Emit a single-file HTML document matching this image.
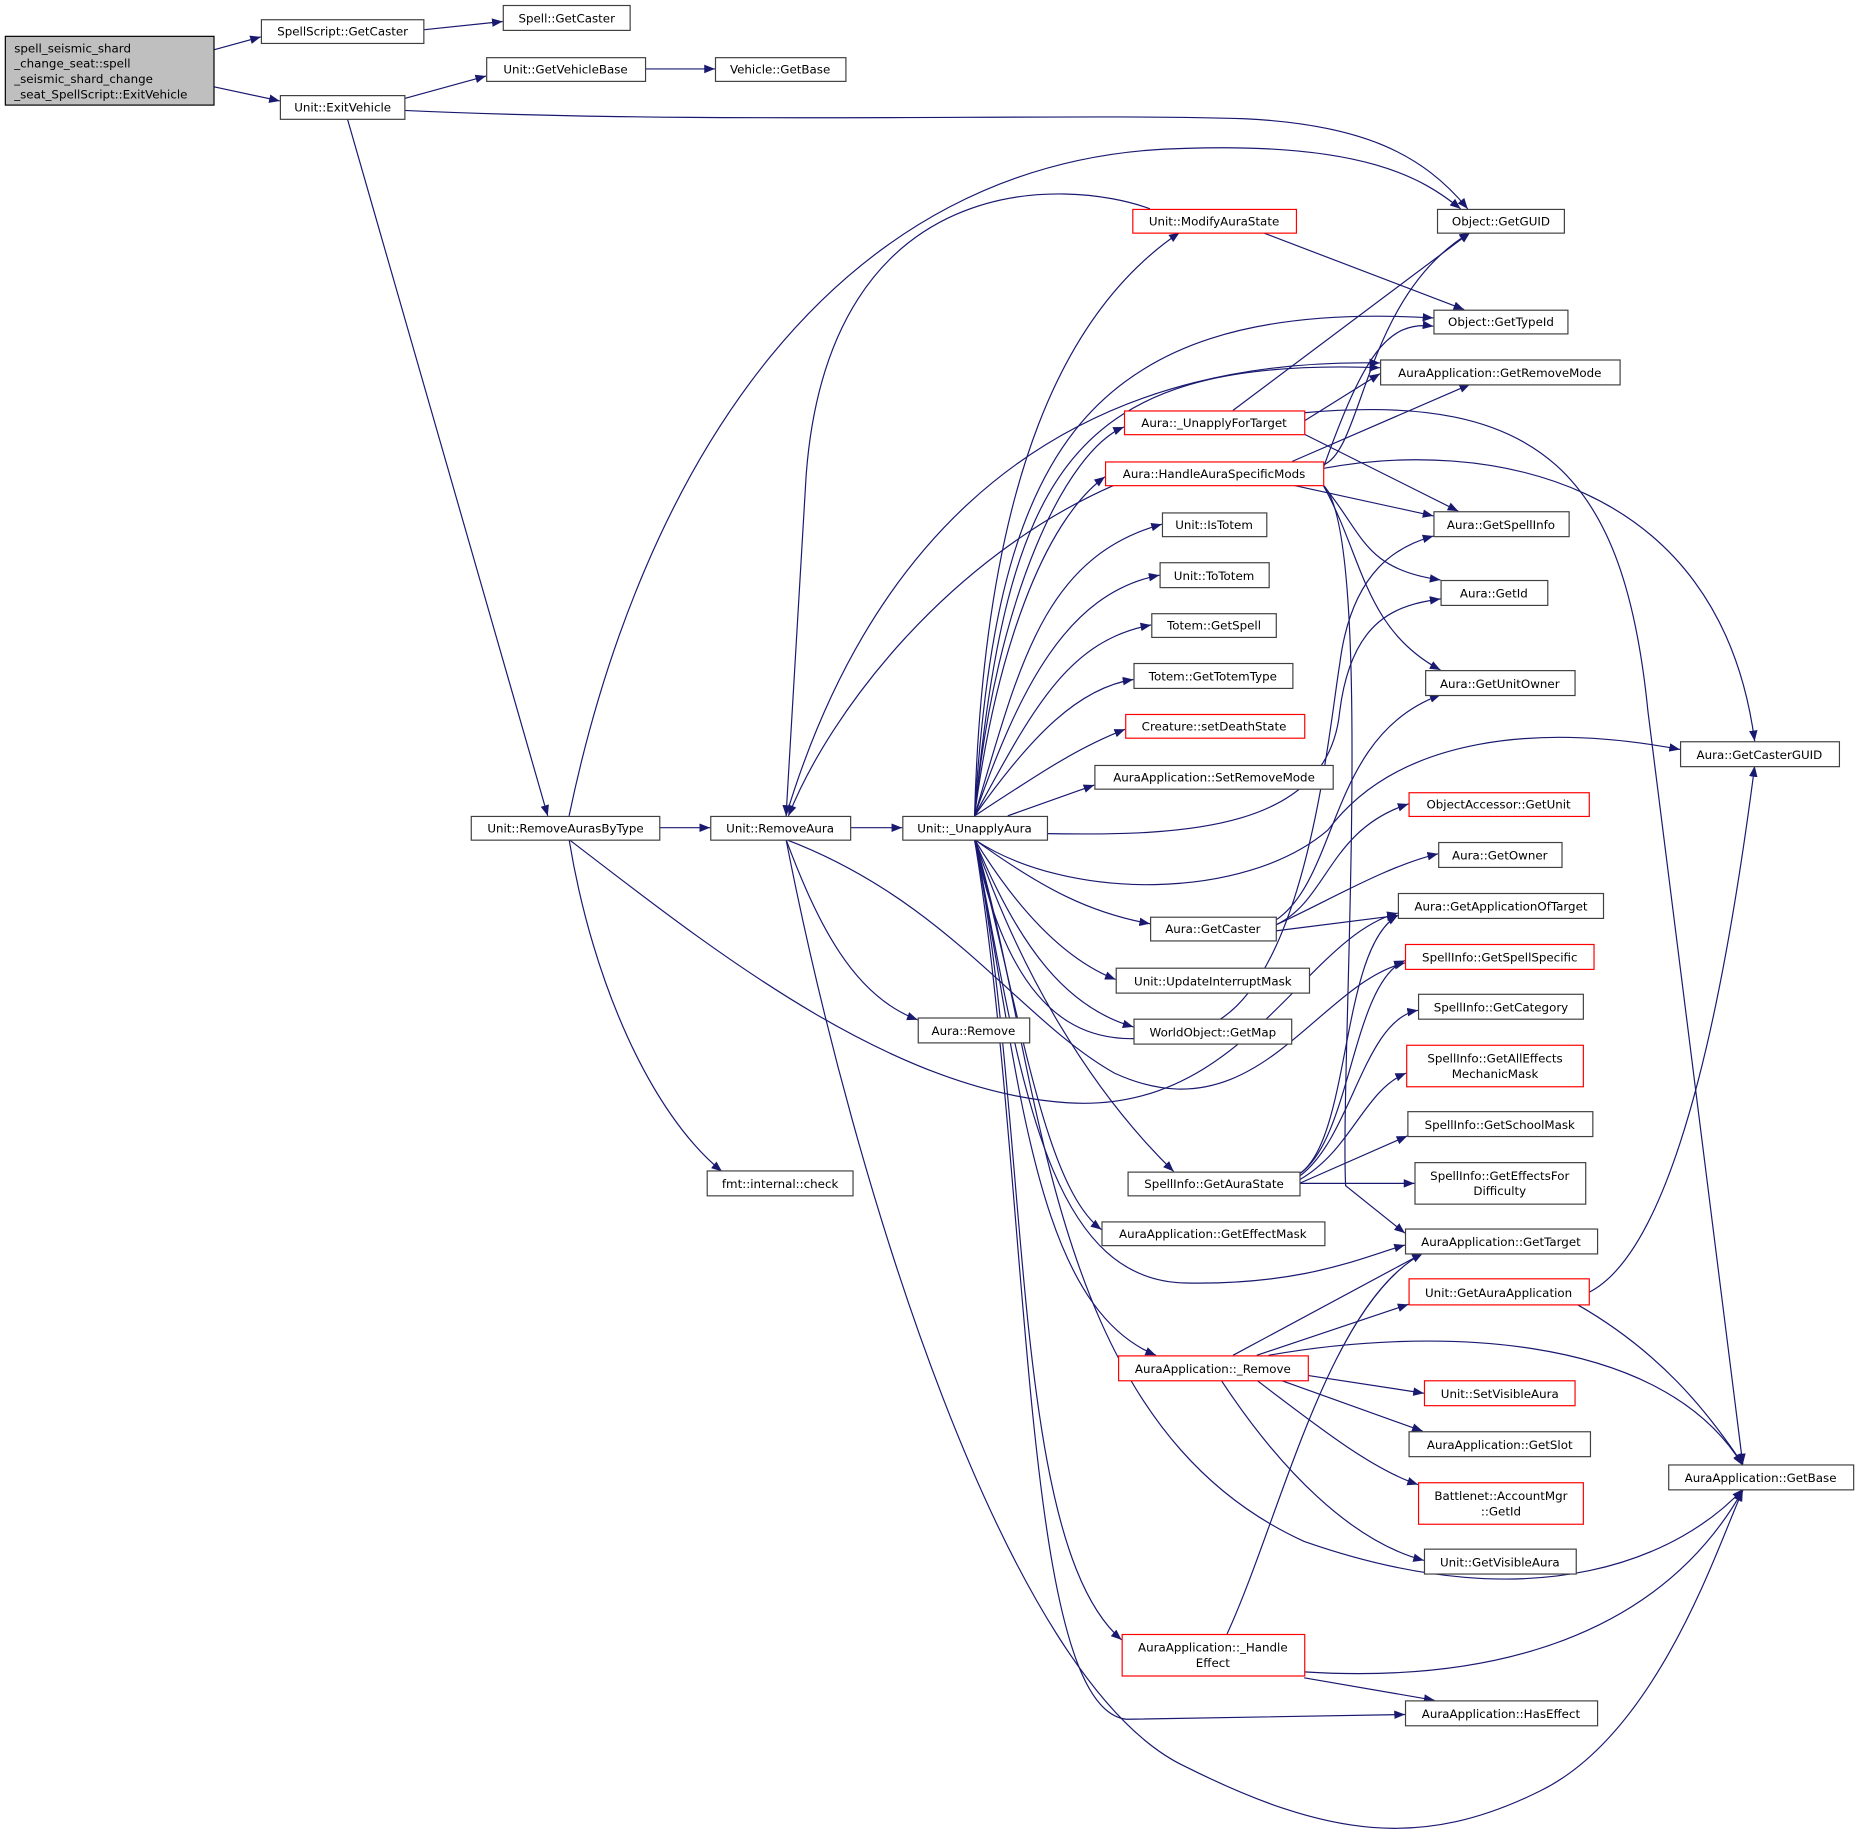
<!DOCTYPE html>
<html><head><meta charset="utf-8"><style>
html,body{margin:0;padding:0;background:#fff}
svg{display:block}
text{font-family:"DejaVu Sans","Liberation Sans",sans-serif;font-size:10px;fill:#000}
.n{fill:#fff;stroke:#404040;stroke-width:1}
.r{fill:#fff;stroke:#ff0000;stroke-width:1}
.e{fill:none;stroke:#191970;stroke-width:1}
</style></head><body>
<svg width="1859" height="1838" viewBox="0 0 1568 1550" xmlns="http://www.w3.org/2000/svg">
<defs><marker id="a" viewBox="0 0 10 10" refX="10" refY="5" markerWidth="9" markerHeight="9" orient="auto" markerUnits="userSpaceOnUse"><path d="M0,1 L10,5 L0,9 z" fill="#191970"/></marker></defs>
<g class="e" marker-end="url(#a)">
<path d="M180,42 L220,31"/>
<path d="M180,73 L236,85"/>
<path d="M357,25 L424,18"/>
<path d="M341,83 L410,64"/>
<path d="M544,58 L603,58"/>
<path d="M341,93 C600,105 900,95 1050,100 C1150,105 1200,130 1238,176"/>
<path d="M293,100 L462,688"/>
<path d="M480,688 C540,400 700,130 1000,125 C1150,120 1200,150 1232,176"/>
<path d="M556,698 L599,698"/>
<path d="M480,708 C500,830 550,940 609,988"/>
<path d="M480,708 C600,800 750,920 900,930 C1050,940 1100,790 1179,770"/>
<path d="M717,698 L761,698"/>
<path d="M663,708 C690,780 720,840 774,860"/>
<path d="M663,708 C800,760 860,860 940,905 C1060,960 1110,830 1185,812"/>
<path d="M663,708 C720,1000 850,1420 1000,1490 C1120,1550 1200,1560 1300,1510 C1400,1460 1450,1300 1470,1257"/>
<path d="M970,176 C900,150 700,140 680,400 L663,688"/>
<path d="M822,688 C830,400 900,260 995,196"/>
<path d="M1065,196 L1235,261"/>
<path d="M940,409 C800,470 700,600 665,688"/>
<path d="M663,688 C720,500 850,300 1164,306"/>
<path d="M822,688 C840,400 900,250 1209,268"/>
<path d="M822,688 C850,400 900,300 1164,310"/>
<path d="M822,688 C840,500 900,380 948,360"/>
<path d="M822,688 C840,550 880,440 932,402"/>
<path d="M822,688 C860,560 880,470 980,442"/>
<path d="M822,688 C860,580 900,500 978,485"/>
<path d="M822,688 C870,600 900,540 971,527"/>
<path d="M822,688 C870,620 910,580 956,573"/>
<path d="M822,688 C880,650 910,630 949,615"/>
<path d="M850,688 L923,662"/>
<path d="M883,703 C1000,705 1120,700 1130,600 C1140,520 1180,510 1215,505"/>
<path d="M822,708 C900,760 1050,760 1120,700 C1180,620 1300,610 1417,632"/>
<path d="M822,708 C880,750 920,770 970,779"/>
<path d="M822,708 C860,770 900,810 941,826"/>
<path d="M822,708 C860,800 900,850 956,866"/>
<path d="M822,708 C860,820 920,920 990,988"/>
<path d="M822,708 C860,850 880,1000 929,1037"/>
<path d="M822,708 C860,900 880,1080 1000,1082 C1100,1084 1150,1060 1185,1050"/>
<path d="M822,708 C860,900 870,1100 975,1143"/>
<path d="M822,708 C870,950 850,1300 946,1383"/>
<path d="M822,708 C870,1000 860,1440 950,1450 L1185,1446"/>
<path d="M822,708 C880,900 880,1200 1100,1300 C1300,1370 1420,1310 1470,1256"/>
<path d="M822,708 C860,900 950,880 1000,870 C1100,860 1120,620 1130,560 C1140,480 1180,460 1209,452"/>
<path d="M1040,346 L1240,196"/>
<path d="M1100,355 L1164,315"/>
<path d="M1100,366 L1230,431"/>
<path d="M1100,348 C1300,330 1370,400 1390,600 L1470,1235"/>
<path d="M1116,392 C1150,380 1150,250 1240,196"/>
<path d="M1116,395 C1150,300 1170,270 1209,275"/>
<path d="M1090,389 L1240,324"/>
<path d="M1116,395 C1250,370 1450,400 1480,625"/>
<path d="M1090,409 L1209,435"/>
<path d="M1116,409 C1150,450 1150,480 1215,489"/>
<path d="M1116,409 C1150,470 1150,530 1215,565"/>
<path d="M1116,409 C1160,450 1130,900 1135,1000 L1185,1040"/>
<path d="M1076,780 C1120,760 1120,700 1188,678"/>
<path d="M1076,780 C1120,760 1170,730 1213,720"/>
<path d="M1076,785 L1179,772"/>
<path d="M1076,776 C1130,740 1120,620 1215,586"/>
<path d="M1096,990 C1140,960 1140,830 1185,810"/>
<path d="M1096,992 C1140,960 1150,860 1196,852"/>
<path d="M1096,995 C1140,970 1150,920 1186,905"/>
<path d="M1096,998 L1187,958"/>
<path d="M1096,998 L1193,998"/>
<path d="M1096,990 C1140,960 1130,800 1179,772"/>
<path d="M1040,1143 L1200,1057"/>
<path d="M1060,1143 L1188,1100"/>
<path d="M1070,1143 C1200,1120 1400,1120 1470,1236"/>
<path d="M1103,1160 L1201,1175"/>
<path d="M1080,1164 L1200,1207"/>
<path d="M1060,1164 C1120,1210 1160,1240 1196,1252"/>
<path d="M1030,1164 C1080,1240 1140,1300 1201,1316"/>
<path d="M1340,1090 C1420,1050 1460,800 1480,646"/>
<path d="M1330,1100 C1400,1140 1440,1190 1470,1235"/>
<path d="M1035,1378 C1080,1280 1120,1100 1200,1057"/>
<path d="M1100,1410 C1260,1420 1400,1380 1470,1257"/>
<path d="M1100,1415 L1210,1434"/>
</g>
<rect x="4.5" y="30.5" width="176" height="58" fill="#bfbfbf" stroke="#000"/>
<text x="12" y="44">spell_seismic_shard</text><text x="12" y="57">_change_seat::spell</text><text x="12" y="70">_seismic_shard_change</text><text x="12" y="83">_seat_SpellScript::ExitVehicle</text>
<g text-anchor="middle">
<rect class="n" x="220.5" y="16.5" width="137" height="20"/><text x="289" y="30">SpellScript::GetCaster</text>
<rect class="n" x="424.5" y="4.5" width="107" height="21"/><text x="478" y="19">Spell::GetCaster</text>
<rect class="n" x="410.5" y="48.5" width="134" height="20"/><text x="477" y="62">Unit::GetVehicleBase</text>
<rect class="n" x="603.5" y="48.5" width="110" height="20"/><text x="658" y="62">Vehicle::GetBase</text>
<rect class="n" x="236.5" y="80.5" width="105" height="20"/><text x="289" y="94">Unit::ExitVehicle</text>
<rect class="n" x="1212.5" y="176.5" width="107" height="20"/><text x="1266" y="190">Object::GetGUID</text>
<rect class="r" x="955.5" y="176.5" width="138" height="20"/><text x="1024" y="190">Unit::ModifyAuraState</text>
<rect class="n" x="1209.5" y="261.5" width="113" height="20"/><text x="1266" y="275">Object::GetTypeId</text>
<rect class="n" x="1164.5" y="303.5" width="202" height="21"/><text x="1265" y="318">AuraApplication::GetRemoveMode</text>
<rect class="r" x="948.5" y="346.5" width="152" height="20"/><text x="1024" y="360">Aura::_UnapplyForTarget</text>
<rect class="r" x="932.5" y="389.5" width="184" height="20"/><text x="1024" y="403">Aura::HandleAuraSpecificMods</text>
<rect class="n" x="1209.5" y="431.5" width="114" height="21"/><text x="1266" y="446">Aura::GetSpellInfo</text>
<rect class="n" x="980.5" y="432.5" width="88" height="20"/><text x="1024" y="446">Unit::IsTotem</text>
<rect class="n" x="978.5" y="474.5" width="92" height="21"/><text x="1024" y="489">Unit::ToTotem</text>
<rect class="n" x="1215.5" y="489.5" width="90" height="21"/><text x="1260" y="504">Aura::GetId</text>
<rect class="n" x="971.5" y="517.5" width="105" height="20"/><text x="1024" y="531">Totem::GetSpell</text>
<rect class="n" x="956.5" y="559.5" width="134" height="21"/><text x="1023" y="574">Totem::GetTotemType</text>
<rect class="n" x="1202.5" y="565.5" width="126" height="21"/><text x="1265" y="580">Aura::GetUnitOwner</text>
<rect class="r" x="949.5" y="602.5" width="151" height="20"/><text x="1024" y="616">Creature::setDeathState</text>
<rect class="n" x="1417.5" y="625.5" width="134" height="21"/><text x="1484" y="640">Aura::GetCasterGUID</text>
<rect class="n" x="923.5" y="645.5" width="201" height="20"/><text x="1024" y="659">AuraApplication::SetRemoveMode</text>
<rect class="r" x="1188.5" y="668.5" width="152" height="20"/><text x="1264" y="682">ObjectAccessor::GetUnit</text>
<rect class="n" x="397.5" y="688.5" width="159" height="20"/><text x="477" y="702">Unit::RemoveAurasByType</text>
<rect class="n" x="599.5" y="688.5" width="118" height="20"/><text x="658" y="702">Unit::RemoveAura</text>
<rect class="n" x="761.5" y="688.5" width="122" height="20"/><text x="822" y="702">Unit::_UnapplyAura</text>
<rect class="n" x="1213.5" y="710.5" width="104" height="21"/><text x="1265" y="725">Aura::GetOwner</text>
<rect class="n" x="1179.5" y="753.5" width="173" height="21"/><text x="1266" y="768">Aura::GetApplicationOfTarget</text>
<rect class="n" x="970.5" y="773.5" width="106" height="20"/><text x="1023" y="787">Aura::GetCaster</text>
<rect class="r" x="1185.5" y="796.5" width="159" height="21"/><text x="1265" y="811">SpellInfo::GetSpellSpecific</text>
<rect class="n" x="941.5" y="816.5" width="163" height="21"/><text x="1023" y="831">Unit::UpdateInterruptMask</text>
<rect class="n" x="1196.5" y="838.5" width="139" height="21"/><text x="1266" y="853">SpellInfo::GetCategory</text>
<rect class="n" x="774.5" y="858.5" width="94" height="21"/><text x="821" y="873">Aura::Remove</text>
<rect class="n" x="956.5" y="859.5" width="133" height="21"/><text x="1023" y="874">WorldObject::GetMap</text>
<rect class="r" x="1186.5" y="881.5" width="149" height="35"/><text x="1261" y="896">SpellInfo::GetAllEffects</text><text x="1261" y="909">MechanicMask</text>
<rect class="n" x="1187.5" y="937.5" width="156" height="21"/><text x="1265" y="952">SpellInfo::GetSchoolMask</text>
<rect class="n" x="1193.5" y="980.5" width="144" height="35"/><text x="1265" y="995">SpellInfo::GetEffectsFor</text><text x="1265" y="1008">Difficulty</text>
<rect class="n" x="951.5" y="988.5" width="145" height="20"/><text x="1024" y="1002">SpellInfo::GetAuraState</text>
<rect class="n" x="596.5" y="987.5" width="123" height="21"/><text x="658" y="1002">fmt::internal::check</text>
<rect class="n" x="929.5" y="1030.5" width="188" height="20"/><text x="1023" y="1044">AuraApplication::GetEffectMask</text>
<rect class="n" x="1185.5" y="1036.5" width="162" height="21"/><text x="1266" y="1051">AuraApplication::GetTarget</text>
<rect class="r" x="1188.5" y="1078.5" width="152" height="22"/><text x="1264" y="1094">Unit::GetAuraApplication</text>
<rect class="r" x="943.5" y="1143.5" width="160" height="21"/><text x="1023" y="1158">AuraApplication::_Remove</text>
<rect class="r" x="1201.5" y="1164.5" width="127" height="21"/><text x="1265" y="1179">Unit::SetVisibleAura</text>
<rect class="n" x="1188.5" y="1207.5" width="153" height="21"/><text x="1265" y="1222">AuraApplication::GetSlot</text>
<rect class="n" x="1407.5" y="1235.5" width="156" height="21"/><text x="1485" y="1250">AuraApplication::GetBase</text>
<rect class="r" x="1196.5" y="1250.5" width="139" height="35"/><text x="1266" y="1265">Battlenet::AccountMgr</text><text x="1266" y="1278">::GetId</text>
<rect class="n" x="1201.5" y="1306.5" width="128" height="21"/><text x="1265" y="1321">Unit::GetVisibleAura</text>
<rect class="r" x="946.5" y="1378.5" width="154" height="35"/><text x="1023" y="1393">AuraApplication::_Handle</text><text x="1023" y="1406">Effect</text>
<rect class="n" x="1185.5" y="1434.5" width="162" height="21"/><text x="1266" y="1449">AuraApplication::HasEffect</text>
</g>
</svg>
</body></html>
